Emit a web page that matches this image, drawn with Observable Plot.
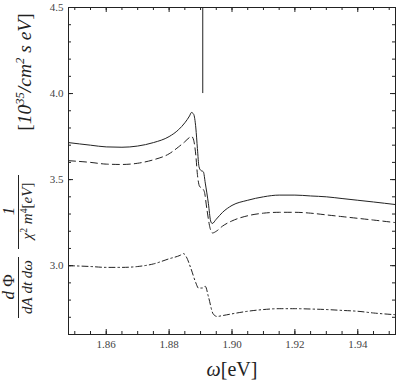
<!DOCTYPE html>
<html><head><meta charset="utf-8">
<script src="https://cdn.jsdelivr.net/npm/d3@7"></script>
<script src="https://cdn.jsdelivr.net/npm/@observablehq/plot@0.6"></script>
<style>body{margin:0;background:#fff}</style>
</head><body><div id="chart"></div>
<script>
// Solid curve
const solidX = [1.848,1.855,1.860,1.865,1.870,1.875,1.880,1.883,1.885,1.8865,1.8871,1.8878,1.8885,1.889,1.8895,1.8900,1.8909,1.8915,1.8925,1.8932,1.8937,1.8950,1.8970,1.9000,1.905,1.910,1.915,1.920,1.925,1.930,1.935,1.940,1.945,1.952];
const solidY = [3.715,3.70,3.69,3.688,3.695,3.715,3.75,3.79,3.83,3.87,3.89,3.88,3.80,3.68,3.575,3.555,3.545,3.48,3.36,3.26,3.245,3.27,3.31,3.35,3.38,3.40,3.41,3.41,3.405,3.40,3.39,3.38,3.37,3.355];
// Dashed curve
const dashedX = [1.848,1.855,1.860,1.865,1.870,1.875,1.880,1.883,1.885,1.8865,1.8872,1.8878,1.8885,1.889,1.8897,1.8905,1.8912,1.892,1.893,1.8938,1.895,1.897,1.900,1.905,1.910,1.915,1.920,1.925,1.930,1.935,1.940,1.945,1.952];
const dashedY = [3.61,3.60,3.59,3.588,3.595,3.615,3.65,3.69,3.72,3.745,3.75,3.73,3.64,3.53,3.46,3.45,3.43,3.33,3.22,3.19,3.20,3.23,3.26,3.29,3.305,3.31,3.31,3.305,3.295,3.285,3.275,3.265,3.25];
// Dash-dot curve
const dashdotX = [1.848,1.855,1.860,1.865,1.870,1.875,1.880,1.8835,1.8846,1.8855,1.887,1.8885,1.8893,1.8905,1.8915,1.8925,1.894,1.8952,1.897,1.900,1.905,1.910,1.915,1.920,1.925,1.930,1.935,1.940,1.945,1.952];
const dashdotY = [3.0,2.995,2.99,2.99,2.995,3.01,3.04,3.06,3.07,3.05,2.98,2.90,2.87,2.87,2.88,2.82,2.72,2.705,2.71,2.72,2.735,2.745,2.75,2.75,2.748,2.745,2.74,2.735,2.725,2.715];
// Vertical marker
const markerX = [1.8907];
const markerY = [4.0, 4.5];
// Axes
const xDomain = [1.848, 1.952];
const yDomain = [2.6, 4.5];
const xTickLabels = [1.86, 1.88, 1.90, 1.92, 1.94];
const yTickLabels = [3.0, 3.5, 4.0, 4.5];
const xMinorTicks = d3.range(1.85, 1.9501, 0.005);
const yMinorTicks = d3.range(2.6, 4.501, 0.1);

const W = 396, H = 385, mL = 68, mT = 7, mR = 1, mB = 51;
const iW = W - mL - mR, iH = H - mT - mB;
const ink = "#222";

const pts = (xs, ys) => xs.map((x, i) => ({x, y: ys[i]}));

const plot = Plot.plot({
  width: W, height: H,
  marginLeft: mL, marginTop: mT, marginRight: mR, marginBottom: mB,
  style: {fontFamily: "'Liberation Serif', serif", fontSize: "11px", color: "#444", background: "#fff"},
  x: {domain: xDomain},
  y: {domain: yDomain},
  marks: [
    Plot.axisX(xTickLabels, {tickSize: 0, tickPadding: 6, tickFormat: ".2f", label: null}),
    Plot.axisY(yTickLabels, {tickSize: 0, tickPadding: 5, tickFormat: ".1f", label: null}),
    // inward ticks, all four sides
    Plot.tickX(xMinorTicks, {x: d => d, insetTop: iH - 3, stroke: ink}),
    Plot.tickX(xMinorTicks, {x: d => d, insetBottom: iH - 3, stroke: ink}),
    Plot.tickX(xTickLabels, {x: d => d, insetTop: iH - 5, stroke: ink}),
    Plot.tickX(xTickLabels, {x: d => d, insetBottom: iH - 5, stroke: ink}),
    Plot.tickY(yMinorTicks, {y: d => d, insetRight: iW - 3, stroke: ink}),
    Plot.tickY(yMinorTicks, {y: d => d, insetLeft: iW - 3, stroke: ink}),
    Plot.tickY(yTickLabels, {y: d => d, insetRight: iW - 5, stroke: ink}),
    Plot.tickY(yTickLabels, {y: d => d, insetLeft: iW - 5, stroke: ink}),
    Plot.frame({stroke: ink}),
    Plot.ruleX(markerX, {x: d => d, y1: markerY[0], y2: markerY[1], stroke: ink, strokeWidth: 1}),
    Plot.line(pts(solidX, solidY), {x: "x", y: "y", curve: "monotone-x", stroke: ink, strokeWidth: 1}),
    Plot.line(pts(dashedX, dashedY), {x: "x", y: "y", curve: "monotone-x", stroke: ink, strokeWidth: 1, strokeDasharray: "7,4"}),
    Plot.line(pts(dashdotX, dashdotY), {x: "x", y: "y", curve: "monotone-x", stroke: ink, strokeWidth: 1, strokeDasharray: "6,3,1.5,3"})
  ]
});
document.getElementById("chart").append(plot);

// Axis titles
const svg = d3.select(plot);
const serif = "'Liberation Serif', serif";
// x label
const xl = svg.append("text").attr("x", 232).attr("y", 376).attr("text-anchor", "middle")
  .attr("font-family", serif).attr("font-size", 20).attr("fill", ink);
xl.append("tspan").attr("font-style", "italic").text("ω");
xl.append("tspan").text("[eV]");

// y label (rotated)
function rtext(x, y, size, parts) {
  const t = svg.append("text").attr("transform", `translate(${x},${y}) rotate(-90)`)
    .attr("text-anchor", "middle").attr("font-family", serif).attr("font-size", size).attr("fill", ink);
  for (const p of parts) {
    const s = t.append("tspan").text(p.t);
    if (p.i) s.attr("font-style", "italic");
    if (p.sup) s.attr("dy", -size * 0.35).attr("font-size", size * 0.65);
    if (p.down) s.attr("dy", size * 0.35);
  }
  return t;
}
function rline(x, y1, y2) {
  svg.append("line").attr("x1", x).attr("x2", x).attr("y1", y1).attr("y2", y2).attr("stroke", ink).attr("stroke-width", 1);
}
// fraction dΦ / dA dt dω
rtext(14, 287, 17, [{t: "d", i: 1}, {t: " Φ"}]);
rline(18.5, 257, 318);
rtext(32, 287, 15, [{t: "dA", i: 1}, {t: " "}, {t: "dt", i: 1}, {t: " "}, {t: "dω", i: 1}]);
// fraction 1 / χ² m⁴[eV]
rtext(14, 211, 17, [{t: "1", i: 1}]);
rline(18.5, 175, 249);
rtext(32, 211, 15, [{t: "χ", i: 1}, {t: "2", sup: 1}, {t: " ", down: 1}, {t: "m", i: 1}, {t: "4", sup: 1}, {t: "[", down: 1}, {t: "eV", i: 1}, {t: "]"}]);
// bracket unit
rtext(31, 72, 19.5, [{t: "["}, {t: "10", i: 1}, {t: "35", sup: 1, i: 1}, {t: "/", i: 1, down: 1}, {t: "cm", i: 1}, {t: "2", sup: 1, i: 1}, {t: " s eV", i: 1, down: 1}, {t: "]"}]);
</script>
</body></html>
